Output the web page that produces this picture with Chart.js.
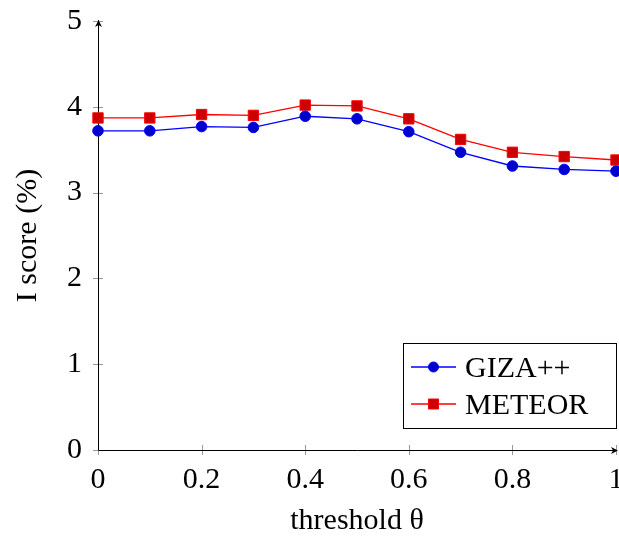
<!DOCTYPE html>
<html>
<head>
<meta charset="utf-8">
<script src="https://cdn.jsdelivr.net/npm/chart.js@4.4.0/dist/chart.umd.min.js"></script>
<style>
  html, body { margin: 0; padding: 0; background: #fff; overflow: hidden; }
</style>
</head>
<body>
<canvas id="scoreChart" width="619" height="536"></canvas>
<script>
/* threshold vs I score */
const thresholds = [0, 0.1, 0.2, 0.3, 0.4, 0.5, 0.6, 0.7, 0.8, 0.9, 1];
const gizaScores = [3.72, 3.72, 3.77, 3.76, 3.89, 3.86, 3.71, 3.47, 3.31, 3.27, 3.25];
const meteorScores = [3.87, 3.87, 3.91, 3.90, 4.02, 4.01, 3.86, 3.62, 3.47, 3.42, 3.38];
const xTicks = [0, 0.2, 0.4, 0.6, 0.8, 1];
const yTicks = [0, 1, 2, 3, 4, 5];

const serif = "'Liberation Serif', 'Times New Roman', serif";

function toPoints(values) {
    return thresholds.map((t, i) => ({ x: t, y: values[i] }));
}

// pgfplots style axes: lines with arrow heads, ticks crossing the axis
const axisLines = {
    id: 'axisLines',
    beforeDatasetsDraw(chart) {
        const { ctx, chartArea: a, scales: { x, y } } = chart;
        ctx.save();
        ctx.strokeStyle = '#999';
        ctx.lineWidth = 1;
        xTicks.forEach(v => {
            const px = Math.round(x.getPixelForValue(v)) + 0.5;
            ctx.beginPath();
            ctx.moveTo(px, a.bottom - 5);
            ctx.lineTo(px, a.bottom + 5);
            ctx.stroke();
        });
        yTicks.forEach(v => {
            const py = Math.round(y.getPixelForValue(v)) + 0.5;
            ctx.beginPath();
            ctx.moveTo(a.left - 5, py);
            ctx.lineTo(a.left + 5, py);
            ctx.stroke();
        });
        ctx.strokeStyle = '#000';
        ctx.fillStyle = '#000';
        const ox = Math.round(a.left) + 0.5, oy = Math.round(a.bottom) + 0.5;
        ctx.beginPath();
        ctx.moveTo(ox, oy);
        ctx.lineTo(a.right + 1, oy);
        ctx.moveTo(ox, oy);
        ctx.lineTo(ox, a.top - 1);
        ctx.stroke();
        // arrow heads
        ctx.beginPath();
        ctx.moveTo(a.right + 2, oy);
        ctx.lineTo(a.right - 5, oy - 3.5);
        ctx.lineTo(a.right - 3, oy);
        ctx.lineTo(a.right - 5, oy + 3.5);
        ctx.closePath();
        ctx.fill();
        ctx.beginPath();
        ctx.moveTo(ox, a.top - 1);
        ctx.lineTo(ox - 3.5, a.top + 6);
        ctx.lineTo(ox, a.top + 4);
        ctx.lineTo(ox + 3.5, a.top + 6);
        ctx.closePath();
        ctx.fill();
        ctx.restore();
    }
};

// legend box in the lower right corner of the plot
const boxLegend = {
    id: 'boxLegend',
    afterDraw(chart) {
        const { ctx } = chart;
        const left = 403, top = 343, w = 213, h = 85;
        ctx.save();
        ctx.fillStyle = '#fff';
        ctx.fillRect(left, top, w, h);
        ctx.strokeStyle = '#000';
        ctx.lineWidth = 1;
        ctx.strokeRect(left + 0.5, top + 0.5, w, h);
        const rows = [367, 404];
        chart.data.datasets.forEach((ds, i) => {
            const cy = rows[i];
            ctx.strokeStyle = ds.borderColor;
            ctx.lineWidth = 1.3;
            ctx.beginPath();
            ctx.moveTo(411, cy);
            ctx.lineTo(456, cy);
            ctx.stroke();
            ctx.fillStyle = ds.pointBackgroundColor;
            ctx.lineWidth = 1;
            ctx.beginPath();
            if (ds.pointStyle === 'rect') {
                ctx.rect(428.5, cy - 5, 10, 10);
            } else {
                ctx.arc(433.5, cy, 5, 0, Math.PI * 2);
            }
            ctx.fill();
            ctx.stroke();
            ctx.fillStyle = '#000';
            ctx.font = '30px ' + serif;
            ctx.textBaseline = 'alphabetic';
            ctx.fillText(ds.label, 465, cy + 10);
        });
        ctx.restore();
    }
};

new Chart(document.getElementById('scoreChart'), {
    type: 'line',
    data: {
        datasets: [{
            label: 'GIZA++',
            data: toPoints(gizaScores),
            borderColor: '#0000ff',
            borderWidth: 1.3,
            pointStyle: 'circle',
            pointRadius: 5.3,
            pointBackgroundColor: '#0000cc',
            pointBorderColor: '#0000ff',
            pointBorderWidth: 1
        }, {
            label: 'METEOR',
            data: toPoints(meteorScores),
            borderColor: '#ff0000',
            borderWidth: 1.3,
            pointStyle: 'rect',
            pointRadius: 7.3,
            pointBackgroundColor: '#cc0000',
            pointBorderColor: '#ff0000',
            pointBorderWidth: 1
        }]
    },
    options: {
        responsive: false,
        animation: false,
        clip: false,
        layout: { autoPadding: false, padding: { left: 0, right: 3, top: 21, bottom: 0 } },
        plugins: {
            legend: { display: false },
            tooltip: { enabled: false }
        },
        scales: {
            x: {
                type: 'linear',
                min: 0,
                max: 1,
                afterBuildTicks: s => { s.ticks = xTicks.map(v => ({ value: v })); },
                afterFit: s => { s.height = 86; s.paddingLeft = 0; s.paddingRight = 0; },
                border: { display: false },
                grid: { drawOnChartArea: false, drawTicks: true, tickLength: 5, color: 'transparent' },
                ticks: {
                    padding: 7,
                    color: '#000',
                    maxRotation: 0,
                    autoSkip: false,
                    font: { family: serif, size: 30 },
                    callback: v => String(v)
                },
                title: {
                    display: true,
                    text: 'threshold θ',
                    color: '#000',
                    font: { family: serif, size: 30, lineHeight: 1 },
                    padding: { top: 0, bottom: 0 }
                }
            },
            y: {
                min: 0,
                max: 5,
                afterBuildTicks: s => { s.ticks = yTicks.map(v => ({ value: v })); },
                afterFit: s => { s.width = 98; s.paddingTop = 0; s.paddingBottom = 0; },
                border: { display: false },
                grid: { drawOnChartArea: false, drawTicks: true, tickLength: 5, color: 'transparent' },
                ticks: {
                    padding: 11,
                    color: '#000',
                    font: { family: serif, size: 30 },
                    callback: v => String(v)
                },
                title: {
                    display: true,
                    text: 'I score (%)',
                    color: '#000',
                    font: { family: serif, size: 30, lineHeight: 1 },
                    padding: { top: 13, bottom: 0 }
                }
            }
        }
    },
    plugins: [axisLines, boxLegend]
});
</script>
</body>
</html>
